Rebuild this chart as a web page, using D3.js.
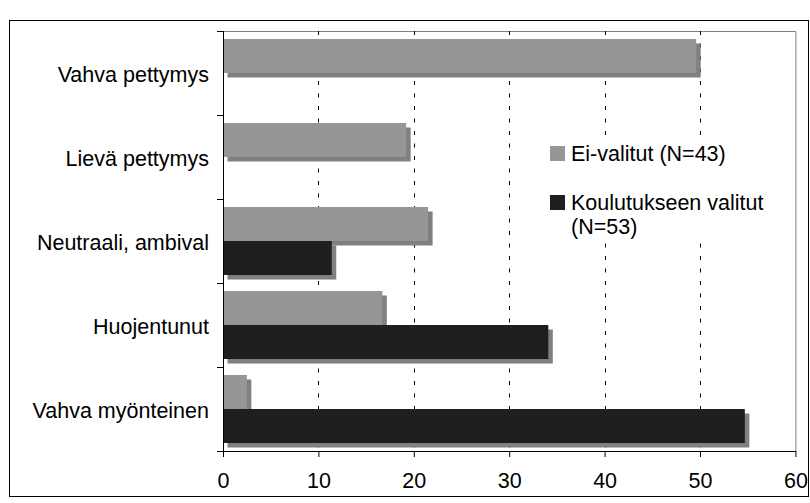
<!DOCTYPE html>
<html>
<head>
<meta charset="utf-8">
<script src="https://cdn.jsdelivr.net/npm/d3@7"></script>
<style>
  body { margin: 0; background: #fff; }
  text { font-family: "Liberation Sans", Arial, sans-serif; fill: #000; }
</style>
</head>
<body>
<div id="chart"></div>
<script>
// data
var categories = ["Vahva pettymys", "Lievä pettymys", "Neutraali, ambival", "Huojentunut", "Vahva myönteinen"];
var seriesNames = ["Ei-valitut (N=43)", "Koulutukseen valitut (N=53)"];
var eiValitut = [49.6, 19.2, 21.5, 16.7, 2.5];
var valitut = [0, 0, 11.4, 34.1, 54.7];
var xTicks = [0, 10, 20, 30, 40, 50, 60];

var w = 810, h = 503;
var pLeft = 223, pRight = 795.4, pTop = 31, pBottom = 451;
var colors = ["#969696", "#1f1f1f"];
var fs = "21.5px";

var svg = d3.select("#chart").append("svg")
  .attr("width", w)
  .attr("height", h)
  .style("background-color", "#fff");

// outer frame
svg.append("rect")
  .attr("x", 9.5).attr("y", 20.5)
  .attr("width", 799).attr("height", 476)
  .style("fill", "none").style("stroke", "#000");

var x = d3.scaleLinear().domain([0, 60]).range([pLeft, pRight]);
var y = d3.scaleBand().domain(categories).range([pTop, pBottom])
  .paddingInner(0.19).paddingOuter(0.095);
var y2 = d3.scaleBand().domain([0, 1]).range([0, y.bandwidth()]);

// plot area border (top, right)
svg.append("path")
  .attr("d", "M" + pLeft + "," + (pTop + 0.5) + "H" + (pRight + 0.5) + "V" + pBottom)
  .style("fill", "none").style("stroke", "#808080");

// grid
svg.append("g").selectAll("line")
  .data(xTicks.filter(d => d > 0 && d < 60))
  .enter().append("line")
  .attr("x1", d => Math.round(x(d)) + 0.5).attr("x2", d => Math.round(x(d)) + 0.5)
  .attr("y1", pTop).attr("y2", pBottom)
  .style("stroke", "#000")
  .style("stroke-dasharray", "4,8.5");

var rows = categories.map((c, i) => ({ cat: c, vals: [eiValitut[i], valitut[i]] }));
var bars = [];
rows.forEach(r => r.vals.forEach((v, s) => { if (v > 0) bars.push({ cat: r.cat, s: s, v: v }); }));

// shadows first
svg.append("g").selectAll("rect")
  .data(bars).enter().append("rect")
  .attr("x", x(0) + 4.5)
  .attr("y", d => y(d.cat) + y2(d.s) + 4.5)
  .attr("width", d => x(d.v) - x(0))
  .attr("height", y2.bandwidth())
  .style("fill", "#808080");

svg.append("g").selectAll("rect")
  .data(bars).enter().append("rect")
  .attr("x", x(0))
  .attr("y", d => y(d.cat) + y2(d.s))
  .attr("width", d => x(d.v) - x(0))
  .attr("height", y2.bandwidth())
  .style("fill", d => colors[d.s]);

// axes
var xAxis = d3.axisBottom(x).tickValues(xTicks).tickSize(6).tickPadding(16);
svg.append("g")
  .attr("transform", "translate(0," + pBottom + ")")
  .call(xAxis)
  .call(g => g.select(".domain").attr("d", "M" + pLeft + ",0.5H" + (pRight + 0.5)))
  .call(g => g.selectAll("text").style("font-size", fs).style("font-family", "Liberation Sans, Arial, sans-serif"));

svg.append("g").selectAll("line")
  .data(d3.range(categories.length + 1))
  .enter().append("line")
  .attr("x1", pLeft - 6).attr("x2", pLeft)
  .attr("y1", d => Math.round(pTop + d * y.step()) + 0.5)
  .attr("y2", d => Math.round(pTop + d * y.step()) + 0.5)
  .style("stroke", "#000");
svg.append("line")
  .attr("x1", pLeft + 0.5).attr("x2", pLeft + 0.5)
  .attr("y1", pTop).attr("y2", pBottom + 6)
  .style("stroke", "#000");

svg.append("g").selectAll("text")
  .data(categories).enter().append("text")
  .attr("x", 209)
  .attr("y", d => y(d) + y.bandwidth() / 2)
  .attr("dy", "0.42em")
  .attr("text-anchor", "end")
  .style("font-size", fs)
  .text(d => d);

// legend (white box hides gridlines)
var legend = svg.append("g").attr("transform", "translate(540,136)");
legend.append("rect").attr("width", 232).attr("height", 105).style("fill", "#fff");
legend.append("rect").attr("x", 10).attr("y", 10).attr("width", 15).attr("height", 15).style("fill", colors[0]);
legend.append("text").attr("x", 31).attr("y", 25).style("font-size", fs).text(seriesNames[0]);
legend.append("rect").attr("x", 10).attr("y", 59).attr("width", 15).attr("height", 15).style("fill", colors[1]);
legend.append("text").attr("x", 31).attr("y", 74).style("font-size", fs).text("Koulutukseen valitut");
legend.append("text").attr("x", 31).attr("y", 98).style("font-size", fs).text("(N=53)");
</script>
</body>
</html>
